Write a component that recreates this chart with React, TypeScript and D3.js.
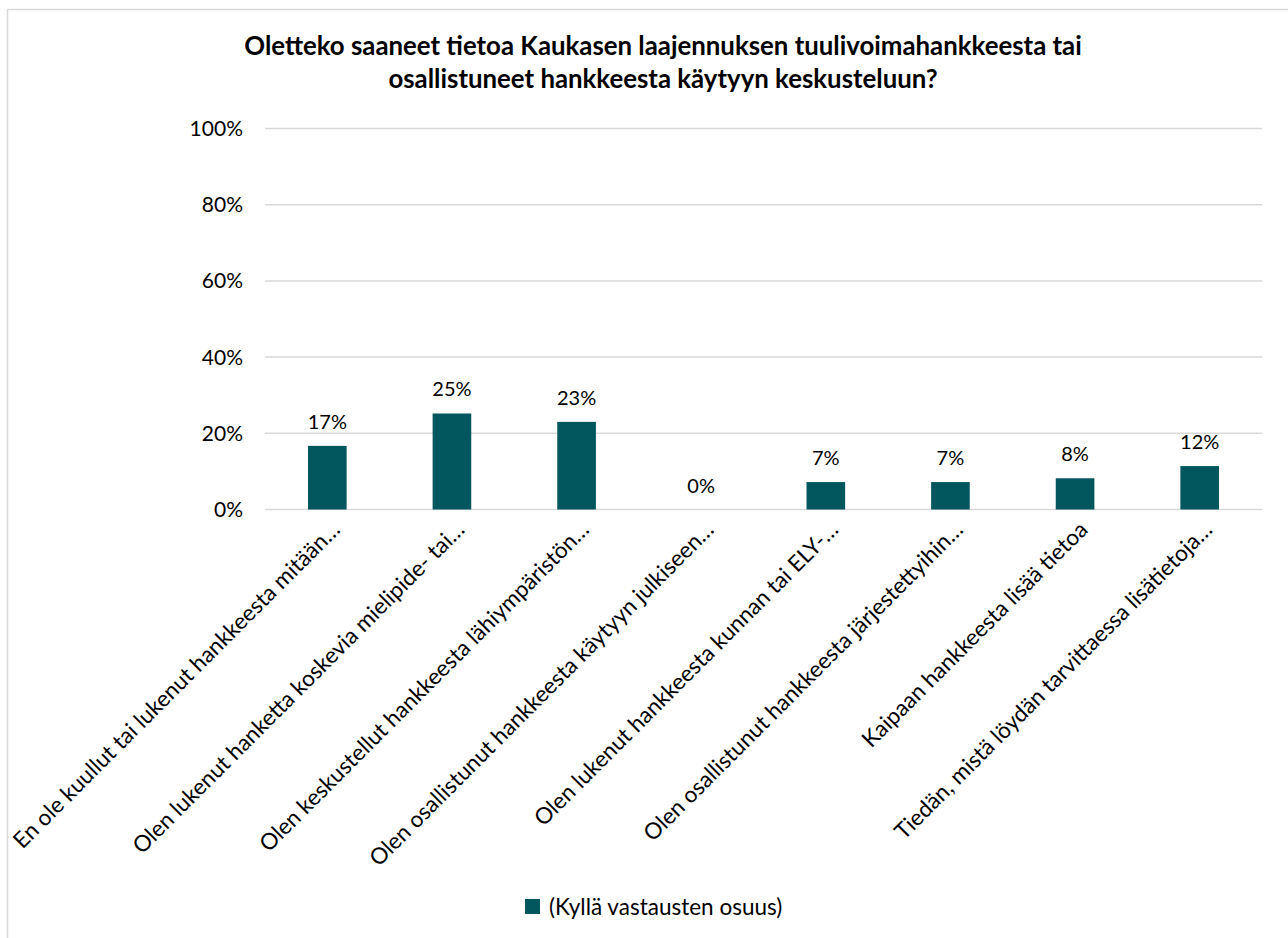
import React from "react";
import * as d3 from "d3";

const categories = [
  "En ole kuullut tai lukenut hankkeesta mitään…",
  "Olen lukenut hanketta koskevia mielipide- tai…",
  "Olen keskustellut hankkeesta lähiympäristön…",
  "Olen osallistunut hankkeesta käytyyn julkiseen…",
  "Olen lukenut hankkeesta kunnan tai ELY-…",
  "Olen osallistunut hankkeesta järjestettyihin…",
  "Kaipaan hankkeesta lisää tietoa",
  "Tiedän, mistä löydän tarvittaessa lisätietoja…",
];
const values = [16.7, 25.2, 23.0, 0, 7.2, 7.2, 8.2, 11.4];
const valueLabels = ["17%", "25%", "23%", "0%", "7%", "7%", "8%", "12%"];
const yTicks = [0, 20, 40, 60, 80, 100];
const seriesName = "(Kyllä vastausten osuus)";
const titleLines = [
  "Oletteko saaneet tietoa Kaukasen laajennuksen tuulivoimahankkeesta tai",
  "osallistuneet hankkeesta käytyyn keskusteluun?",
];

const W = 1288;
const H = 938;
const font = "Lato, 'Open Sans', sans-serif";
const barColor = "#02575F";

export default function App() {
  const x = d3.scaleBand<string>().domain(categories).range([265, 1262]).paddingInner(0.69).paddingOuter(0.345);
  const y = d3.scaleLinear().domain([0, 100]).range([509.5, 128.5]);

  return (
    <svg width={W} height={H} style={{ position: "absolute", left: 0, top: 0 }} fontFamily={font}>
      <rect x={0} y={0} width={W} height={H} fill="#fff" />
      <rect x={7.5} y={9.5} width={W + 20} height={H + 20} fill="none" stroke="#d9d9d9" strokeWidth={1.5} />
      {titleLines.map((t, i) => (
        <text key={i} x={663} y={54.5 + i * 33} textAnchor="middle" fontSize={25.8} fontWeight={700} fill="#000">
          {t}
        </text>
      ))}
      {yTicks.map((t) => (
        <g key={t}>
          <line x1={265} x2={1262} y1={y(t)} y2={y(t)} stroke="#d9d9d9" strokeWidth={1.5} />
          <text x={243} y={y(t)} dy="0.36em" textAnchor="end" fontSize={21} fill="#000">
            {t}%
          </text>
        </g>
      ))}
      {categories.map((c, i) => {
        const bx = x(c)!;
        const cx = bx + x.bandwidth() / 2;
        return (
          <g key={c}>
            {values[i] > 0 && (
              <rect x={bx} y={y(values[i])} width={x.bandwidth()} height={y(0) - y(values[i])} fill={barColor} />
            )}
            <text x={cx} y={y(values[i]) - 17} textAnchor="middle" fontSize={20} fill="#000">
              {valueLabels[i]}
            </text>
            <text
              transform={`translate(${cx + 14},${531}) rotate(-45)`}
              textAnchor="end"
              fontSize={22.5}
              fill="#000"
            >
              {c}
            </text>
          </g>
        );
      })}
      <rect x={525} y={899} width={15} height={15} fill={barColor} />
      <text x={549} y={907} dy="0.36em" fontSize={22.5} fill="#000">
        {seriesName}
      </text>
    </svg>
  );
}
